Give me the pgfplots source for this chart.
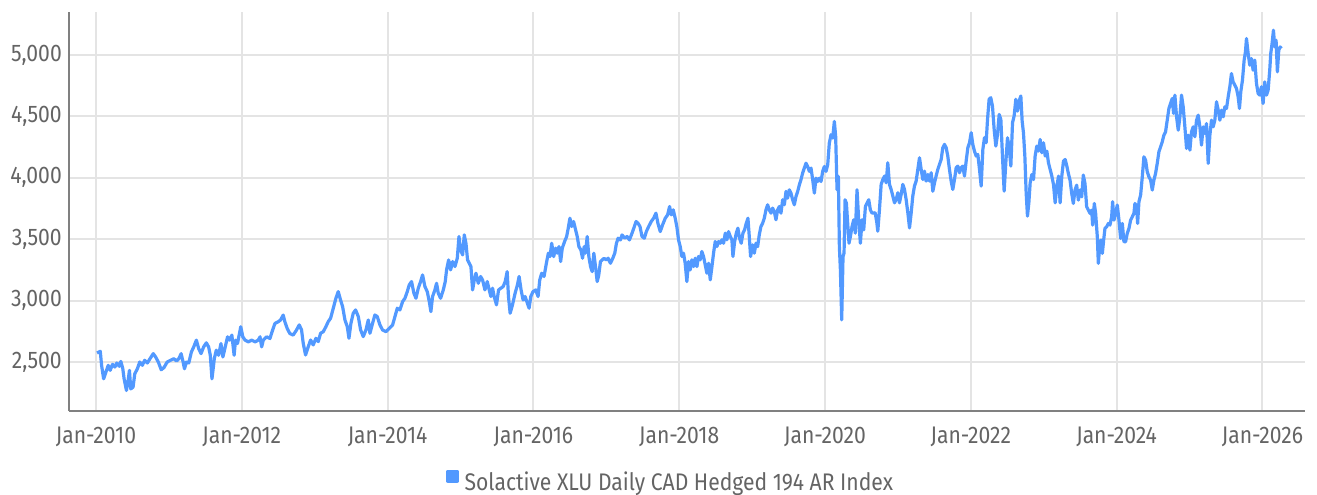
\documentclass[border=0pt]{standalone}
\usepackage{pgfplots}
\pgfplotsset{compat=1.18}
\usepackage{pgfplotstable}
\usepackage{fontspec}
\setmainfont{Fira Sans}[FakeStretch=0.88]
\definecolor{lineblue}{RGB}{82,153,255}
\definecolor{gridgray}{RGB}{228,228,228}
\definecolor{axisgray}{RGB}{128,128,128}
\definecolor{textgray}{RGB}{100,100,100}

\pgfplotstableread{
x y
2010.014 2574
2010.059 2587
2010.077 2473
2010.105 2363
2010.136 2418
2010.168 2473
2010.195 2432
2010.227 2481
2010.259 2459
2010.286 2492
2010.318 2465
2010.341 2505
2010.368 2445
2010.386 2363
2010.418 2268
2010.441 2350
2010.459 2432
2010.477 2281
2010.509 2295
2010.532 2404
2010.568 2445
2010.600 2500
2010.636 2473
2010.668 2514
2010.705 2492
2010.741 2527
2010.786 2568
2010.818 2541
2010.855 2500
2010.895 2437
2010.932 2454
2010.977 2500
2011.023 2514
2011.068 2527
2011.105 2508
2011.136 2527
2011.168 2568
2011.195 2500
2011.214 2445
2011.241 2500
2011.273 2492
2011.309 2582
2011.341 2623
2011.377 2678
2011.409 2609
2011.441 2568
2011.477 2623
2011.514 2656
2011.545 2623
2011.568 2555
2011.591 2363
2011.605 2432
2011.623 2527
2011.650 2596
2011.682 2555
2011.714 2650
2011.741 2541
2011.773 2623
2011.805 2705
2011.832 2678
2011.864 2719
2011.895 2555
2011.914 2678
2011.941 2650
2011.968 2732
2011.986 2787
2012.014 2705
2012.045 2678
2012.091 2664
2012.136 2678
2012.182 2664
2012.227 2678
2012.250 2705
2012.273 2623
2012.295 2678
2012.341 2705
2012.386 2691
2012.423 2760
2012.455 2814
2012.500 2828
2012.532 2842
2012.568 2882
2012.591 2828
2012.623 2773
2012.659 2732
2012.705 2719
2012.750 2760
2012.788 2802
2012.820 2761
2012.843 2652
2012.875 2557
2012.912 2625
2012.944 2679
2012.980 2639
2013.017 2693
2013.049 2666
2013.081 2734
2013.118 2747
2013.154 2788
2013.186 2829
2013.218 2856
2013.255 2938
2013.291 3019
2013.323 3073
2013.355 3005
2013.383 2951
2013.415 2842
2013.447 2788
2013.470 2693
2013.497 2815
2013.529 2897
2013.561 2924
2013.598 2870
2013.630 2761
2013.666 2707
2013.703 2761
2013.735 2842
2013.758 2734
2013.794 2815
2013.826 2883
2013.858 2870
2013.895 2802
2013.931 2761
2013.977 2747
2014.023 2774
2014.069 2802
2014.101 2870
2014.133 2938
2014.169 2924
2014.206 2992
2014.238 3019
2014.270 3073
2014.297 3128
2014.329 3155
2014.361 3060
2014.389 3019
2014.421 3101
2014.453 3155
2014.480 3209
2014.512 3114
2014.544 3073
2014.572 2992
2014.594 2910
2014.617 3033
2014.649 3087
2014.672 3141
2014.695 3060
2014.727 3019
2014.764 3087
2014.791 3155
2014.809 3250
2014.837 3331
2014.864 3250
2014.892 3318
2014.924 3277
2014.956 3345
2014.979 3522
2015.001 3413
2015.029 3372
2015.052 3535
2015.075 3467
2015.097 3331
2015.120 3304
2015.143 3277
2015.166 3087
2015.189 3168
2015.212 3223
2015.244 3141
2015.276 3196
2015.303 3168
2015.335 3087
2015.367 3155
2015.394 3087
2015.417 3033
2015.440 3101
2015.462 3033
2015.494 2965
2015.522 3087
2015.554 3101
2015.585 3114
2015.613 3155
2015.640 3236
2015.658 3033
2015.681 2897
2015.713 2965
2015.749 3060
2015.781 3128
2015.804 3196
2015.831 3087
2015.859 3005
2015.886 3033
2015.918 2978
2015.941 2938
2015.964 3033
2015.995 3073
2016.032 3087
2016.064 3033
2016.087 3168
2016.114 3223
2016.146 3196
2016.178 3304
2016.205 3386
2016.228 3358
2016.251 3467
2016.278 3358
2016.305 3427
2016.328 3386
2016.351 3440
2016.374 3318
2016.396 3427
2016.428 3481
2016.456 3522
2016.478 3590
2016.501 3671
2016.524 3603
2016.551 3644
2016.579 3576
2016.601 3522
2016.624 3440
2016.651 3413
2016.674 3345
2016.697 3440
2016.715 3386
2016.738 3522
2016.761 3358
2016.784 3277
2016.806 3236
2016.829 3386
2016.852 3277
2016.875 3155
2016.897 3209
2016.920 3318
2016.943 3331
2016.970 3345
2016.998 3331
2017.025 3345
2017.057 3304
2017.089 3345
2017.116 3386
2017.139 3467
2017.162 3508
2017.194 3494
2017.216 3535
2017.253 3508
2017.285 3522
2017.317 3494
2017.353 3549
2017.385 3603
2017.408 3644
2017.435 3630
2017.462 3603
2017.490 3522
2017.522 3508
2017.549 3562
2017.581 3603
2017.617 3644
2017.649 3671
2017.681 3712
2017.708 3630
2017.740 3562
2017.772 3617
2017.809 3671
2017.841 3698
2017.868 3766
2017.891 3698
2017.918 3739
2017.945 3671
2017.968 3600
2017.991 3494
2018.014 3440
2018.037 3359
2018.059 3386
2018.082 3304
2018.105 3155
2018.128 3318
2018.151 3250
2018.174 3332
2018.197 3277
2018.220 3345
2018.243 3277
2018.265 3359
2018.288 3332
2018.311 3400
2018.334 3359
2018.357 3291
2018.380 3223
2018.403 3304
2018.426 3169
2018.449 3277
2018.471 3386
2018.494 3481
2018.517 3440
2018.540 3481
2018.563 3467
2018.586 3495
2018.609 3467
2018.632 3549
2018.654 3495
2018.677 3562
2018.700 3522
2018.723 3495
2018.737 3359
2018.760 3481
2018.783 3549
2018.805 3590
2018.828 3508
2018.851 3467
2018.874 3549
2018.897 3576
2018.920 3630
2018.943 3671
2018.961 3522
2018.979 3359
2019.007 3454
2019.030 3386
2019.053 3467
2019.076 3440
2019.098 3535
2019.121 3603
2019.144 3630
2019.167 3671
2019.190 3739
2019.213 3780
2019.236 3739
2019.259 3712
2019.281 3753
2019.304 3726
2019.327 3658
2019.350 3739
2019.373 3766
2019.396 3712
2019.419 3821
2019.442 3780
2019.465 3889
2019.487 3834
2019.510 3902
2019.533 3875
2019.556 3821
2019.579 3780
2019.602 3848
2019.625 3889
2019.648 3943
2019.670 3984
2019.693 4038
2019.716 4079
2019.739 4119
2019.762 4092
2019.785 4052
2019.808 4079
2019.831 3984
2019.854 3875
2019.876 3997
2019.899 3970
2019.922 3997
2019.945 3970
2019.968 4052
2019.991 4092
2020.014 4052
2020.037 4106
2020.059 4283
2020.082 4350
2020.105 4323
2020.128 4459
2020.146 4337
2020.165 3902
2020.183 4011
2020.197 3440
2020.211 3250
2020.229 2843
2020.247 3359
2020.261 3386
2020.275 3821
2020.293 3794
2020.311 3630
2020.329 3467
2020.348 3522
2020.371 3603
2020.394 3658
2020.416 3549
2020.439 3902
2020.462 3658
2020.485 3467
2020.508 3658
2020.531 3576
2020.554 3766
2020.577 3794
2020.600 3821
2020.622 3739
2020.645 3712
2020.688 3715
2020.711 3633
2020.724 3565
2020.747 3742
2020.770 3946
2020.793 3986
2020.816 4014
2020.839 3959
2020.861 4122
2020.884 3946
2020.907 3905
2020.930 3851
2020.953 3796
2020.976 3823
2020.999 3878
2021.021 3796
2021.044 3864
2021.067 3946
2021.090 3905
2021.113 3823
2021.136 3715
2021.159 3592
2021.182 3715
2021.204 3851
2021.227 3932
2021.250 3973
2021.273 4068
2021.296 4163
2021.319 4068
2021.342 3986
2021.364 4054
2021.387 3973
2021.410 4027
2021.433 3973
2021.456 4041
2021.479 3891
2021.502 3959
2021.524 4014
2021.547 4068
2021.570 4109
2021.593 4149
2021.616 4245
2021.639 4272
2021.662 4245
2021.684 4177
2021.707 4068
2021.730 3973
2021.753 3905
2021.776 3986
2021.799 4082
2021.822 4095
2021.845 4041
2021.867 4082
2021.890 4095
2021.913 4014
2021.936 4136
2021.959 4245
2021.982 4285
2022.005 4367
2022.027 4272
2022.050 4217
2022.073 4177
2022.096 4190
2022.119 4068
2022.142 3932
2022.165 4231
2022.187 4326
2022.210 4285
2022.229 4475
2022.251 4639
2022.274 4652
2022.297 4584
2022.320 4394
2022.343 4258
2022.366 4353
2022.389 4516
2022.412 4475
2022.434 4177
2022.457 3891
2022.480 4122
2022.503 4326
2022.526 4245
2022.549 4095
2022.572 4448
2022.594 4503
2022.617 4639
2022.640 4543
2022.663 4625
2022.686 4666
2022.704 4462
2022.722 4367
2022.741 4177
2022.759 3878
2022.777 3688
2022.796 3796
2022.814 3959
2022.837 4027
2022.860 3986
2022.882 4177
2022.905 4258
2022.928 4217
2022.951 4312
2022.974 4204
2022.997 4285
2023.020 4177
2023.043 4217
2023.065 4122
2023.088 4068
2023.111 4014
2023.134 3946
2023.157 3796
2023.180 3932
2023.203 4014
2023.225 3796
2023.248 4014
2023.271 4136
2023.294 4149
2023.317 4095
2023.338 4035
2023.361 3981
2023.384 3872
2023.406 3791
2023.429 3900
2023.452 3940
2023.475 3818
2023.498 3900
2023.521 3845
2023.543 4022
2023.566 3954
2023.589 3764
2023.612 3737
2023.635 3710
2023.658 3737
2023.671 3615
2023.694 3791
2023.712 3710
2023.735 3520
2023.749 3303
2023.767 3438
2023.785 3493
2023.804 3384
2023.822 3493
2023.840 3588
2023.863 3601
2023.886 3628
2023.909 3615
2023.932 3683
2023.945 3805
2023.963 3655
2023.986 3710
2024.009 3778
2024.032 3655
2024.055 3506
2024.078 3628
2024.100 3479
2024.123 3479
2024.146 3547
2024.169 3588
2024.192 3655
2024.215 3683
2024.237 3710
2024.251 3791
2024.274 3764
2024.288 3628
2024.306 3805
2024.329 3859
2024.352 4008
2024.374 4171
2024.397 4144
2024.420 4049
2024.443 4008
2024.466 3981
2024.489 3900
2024.511 3981
2024.534 4035
2024.557 4117
2024.580 4212
2024.603 4252
2024.626 4293
2024.648 4347
2024.671 4374
2024.694 4469
2024.717 4564
2024.740 4605
2024.763 4646
2024.781 4524
2024.799 4673
2024.822 4496
2024.845 4388
2024.868 4496
2024.890 4673
2024.913 4578
2024.936 4415
2024.959 4239
2024.982 4347
2025.005 4225
2025.027 4374
2025.050 4415
2025.073 4334
2025.096 4469
2025.119 4510
2025.142 4415
2025.164 4266
2025.187 4415
2025.210 4361
2025.233 4442
2025.256 4117
2025.279 4347
2025.301 4469
2025.324 4415
2025.347 4469
2025.370 4619
2025.393 4551
2025.416 4469
2025.438 4551
2025.461 4496
2025.484 4578
2025.507 4564
2025.530 4659
2025.553 4741
2025.575 4849
2025.598 4781
2025.621 4754
2025.644 4727
2025.667 4659
2025.685 4564
2025.703 4700
2025.726 4795
2025.749 4958
2025.767 5026
2025.781 5134
2025.804 5012
2025.826 4917
2025.849 4971
2025.872 4876
2025.895 4958
2025.918 4768
2025.941 4686
2025.963 4673
2025.986 4741
2026.009 4605
2026.032 4781
2026.055 4673
2026.078 4714
2026.100 4876
2026.114 5012
2026.132 5093
2026.151 5202
2026.169 5066
2026.187 5120
2026.205 4863
2026.224 5039
2026.242 5066
2026.260 5053
}\indexdata

\begin{document}
\begin{tikzpicture}
\path[use as bounding box] (0,0) rectangle (1317bp,495bp);
\begin{axis}[
  at={(69bp,84bp)}, anchor=south west,
  width=1236bp, height=399bp, scale only axis,
  xmin=2009.63, xmax=2026.584,
  ymin=2101, ymax=5350,
  axis x line*=bottom, axis y line*=left,
  axis line style={axisgray, line width=2bp},
  grid=major,
  major grid style={gridgray, line width=2bp},
  major tick length=0pt,
  xtick={2010,2012,...,2026},
  xticklabels={Jan-2010,Jan-2012,Jan-2014,Jan-2016,Jan-2018,Jan-2020,Jan-2022,Jan-2024,Jan-2026},
  ytick={2500,3000,3500,4000,4500,5000},
  scaled y ticks=false,
  /pgf/number format/.cd, 1000 sep={,}, assume math mode=true,
  /pgfplots/.cd,
  tick label style={font=\fontsize{24bp}{28bp}\selectfont, text=textgray},
  yticklabel style={anchor=east, inner sep=0pt, xshift=-7bp},
  xticklabel style={anchor=north, inner sep=0pt, yshift=-16bp},
  legend style={draw=none, fill=none, at={(0.486,-0.1754)}, anchor=center,
    font=\fontsize{24bp}{28bp}\selectfont, text=textgray,
    nodes={inner sep=0pt}, /tikz/column sep=6bp},
  legend image code/.code={\fill[lineblue] (0bp,1bp) rectangle (9bp,11bp);},
]
\addplot[lineblue, line width=3.2bp, line join=round] table[x=x, y=y] {\indexdata};
\addlegendentry{Solactive XLU Daily CAD Hedged 194 AR Index}
\end{axis}
\end{tikzpicture}
\end{document}
